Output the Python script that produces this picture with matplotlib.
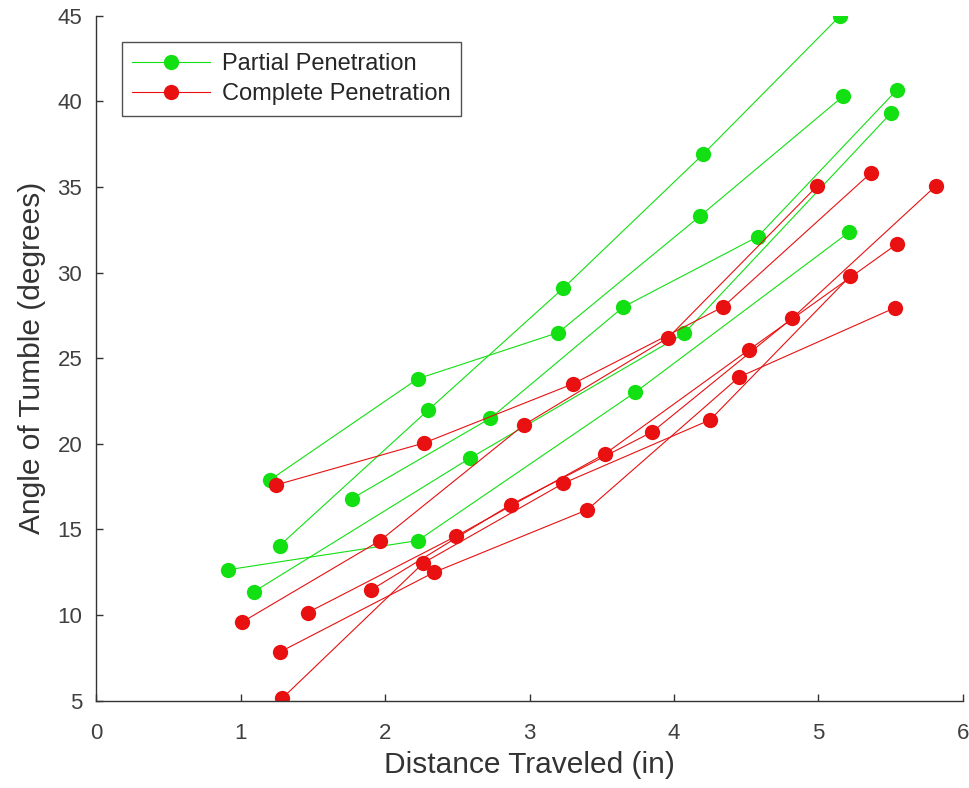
import matplotlib
matplotlib.use("Agg")
import matplotlib.pyplot as plt

plt.rcParams["font.family"] = ["Liberation Sans", "DejaVu Sans"]

# Partial penetration runs: distance traveled (in) vs. angle of tumble (deg)
partial_x = [
    [1.205, 2.227, 3.20, 4.18, 5.17],
    [1.27, 2.296, 3.235, 4.20, 5.15],
    [1.77, 2.73, 3.65, 4.58, 5.54],
    [1.09, 2.585, 4.07, 5.50],
    [0.916, 2.227, 3.73, 5.21],
]
partial_y = [
    [17.9, 23.8, 26.5, 33.3, 40.3],
    [14.05, 21.95, 29.1, 36.9, 45.0],
    [16.8, 21.5, 28.0, 32.1, 40.65],
    [11.35, 19.15, 26.45, 39.3],
    [12.65, 14.35, 23.0, 32.35],
]

# Complete penetration runs
complete_x = [
    [1.246, 2.27, 3.30, 4.34, 5.36],
    [1.013, 1.966, 2.96, 3.96, 4.99],
    [1.274, 2.34, 3.40, 4.45, 5.53],
    [1.29, 2.266, 3.235, 4.25, 5.22],
    [1.466, 2.49, 3.52, 4.52, 5.54],
    [1.90, 2.87, 3.85, 4.82, 5.81],
]
complete_y = [
    [17.6, 20.05, 23.5, 28.0, 35.8],
    [9.6, 14.35, 21.1, 26.2, 35.05],
    [7.85, 12.5, 16.15, 23.9, 27.95],
    [5.15, 13.05, 17.7, 21.4, 29.8],
    [10.15, 14.6, 19.4, 25.5, 31.65],
    [11.45, 16.45, 20.7, 27.35, 35.05],
]

green = "#12e012"
red = "#e81010"
spine_color = "#333333"
label_color = "#404040"

fig = plt.figure(figsize=(9.69, 7.88), dpi=100)
ax = fig.add_axes([0.0991, 0.1108, 0.8947, 0.8692])

marker_kw = dict(marker="o", markersize=11, linewidth=0.8, markeredgewidth=0)

for i, (xs, ys) in enumerate(zip(partial_x, partial_y)):
    ax.plot(xs, ys, color=green, label="Partial Penetration" if i == 0 else None, **marker_kw)

for i, (xs, ys) in enumerate(zip(complete_x, complete_y)):
    ax.plot(xs, ys, color=red, label="Complete Penetration" if i == 0 else None, **marker_kw)

ax.set_xlim(0, 6)
ax.set_ylim(5, 45)
ax.set_xticks(range(0, 7))
ax.set_yticks(range(5, 46, 5))

# MATLAB-like axes: box off, inward ticks
ax.spines["top"].set_visible(False)
ax.spines["right"].set_visible(False)
for side in ("left", "bottom"):
    ax.spines[side].set_color(spine_color)
    ax.spines[side].set_linewidth(1.0)
ax.tick_params(direction="in", length=5, width=1.0, color=spine_color,
               labelsize=16, labelcolor=label_color)
ax.tick_params(axis="x", pad=16)
ax.tick_params(axis="y", pad=10)

ax.set_xlabel("Distance Traveled (in)", fontsize=21.5, color="#333333", labelpad=5)
ax.set_ylabel("Angle of Tumble (degrees)", fontsize=21.5, color="#333333", labelpad=8)

leg = ax.legend(loc="upper left", bbox_to_anchor=(0.0295, 0.961), fontsize=17,
                frameon=True, fancybox=False, edgecolor="#262626",
                handlelength=3.3, handletextpad=0.5, borderpad=0.45,
                labelspacing=0.33, borderaxespad=0)
leg.get_frame().set_linewidth(1.0)
for text in leg.get_texts():
    text.set_color("#262626")

fig.savefig("out.png", dpi=100, facecolor="white")
